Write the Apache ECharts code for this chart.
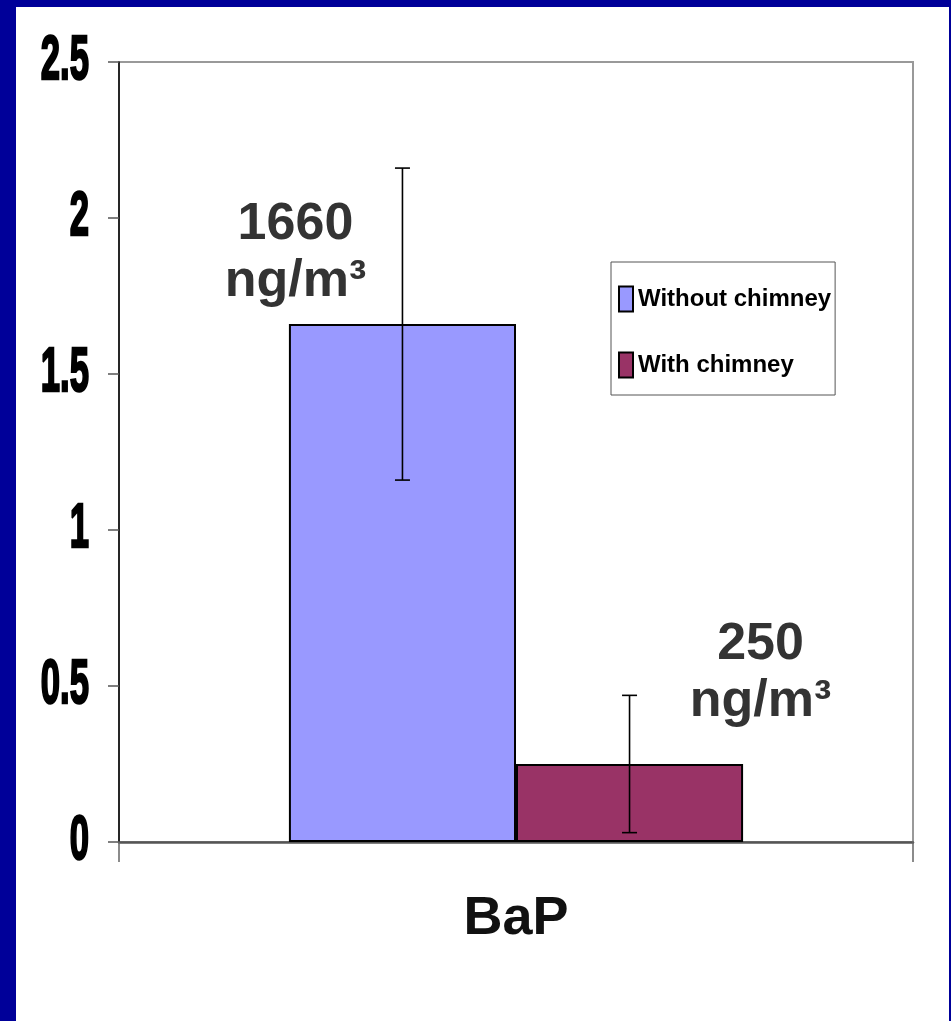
<!DOCTYPE html>
<html>
<head>
<meta charset="utf-8">
<script src="https://cdn.jsdelivr.net/npm/echarts@6/dist/echarts.min.js"></script>
<style>
  html, body { margin: 0; padding: 0; background: #000099; width: 951px; height: 1021px; overflow: hidden; }
  #chart { position: absolute; left: 16px; top: 7px; width: 933px; height: 1014px; background: #ffffff; }
</style>
</head>
<body>
<div id="chart"></div>
<script>
// ---- data ----
const categories = ['BaP'];
const seriesNames = ['Without chimney', 'With chimney'];
const withoutValues = [1.66];
const withValues = [0.25];
const withoutErr = [0.50];
const withErr = [0.22];
const withoutConc = [1660];
const withConc = [250];
const concUnit = 'ng/m³';
const yTickValues = [0, 0.5, 1, 1.5, 2, 2.5];
const yTickLabels = ['0', '0.5', '1', '1.5', '2', '2.5'];

// ---- styles ----
const arial = "'Liberation Sans', Arial, sans-serif";
const BAR_FRAC = 0.286;

function errData(vals, errs) {
  return vals.map((v, i) => [i, v - errs[i], v + errs[i]]);
}
function errSeries(name, vals, errs, sideSign) {
  return {
    type: 'custom',
    name: name + ' err',
    z: 5,
    encode: { x: 0, y: [1, 2] },
    data: errData(vals, errs),
    renderItem: function (params, api) {
      const bandW = api.size([1, 0])[0];
      const lo = api.coord([api.value(0), api.value(1)]);
      const hi = api.coord([api.value(0), api.value(2)]);
      const x = lo[0] + sideSign * bandW * BAR_FRAC / 2;
      const cap = 7.5;
      const st = { stroke: '#000', lineWidth: 1.6 };
      return {
        type: 'group',
        children: [
          { type: 'line', shape: { x1: x, y1: lo[1], x2: x, y2: hi[1] }, style: st },
          { type: 'line', shape: { x1: x - cap, y1: lo[1], x2: x + cap, y2: lo[1] }, style: st },
          { type: 'line', shape: { x1: x - cap, y1: hi[1], x2: x + cap, y2: hi[1] }, style: st }
        ]
      };
    },
    tooltip: { show: false }
  };
}

const chart = echarts.init(document.getElementById('chart'), null, { renderer: 'canvas' });
chart.setOption({
  backgroundColor: '#ffffff',
  animation: false,
  grid: {
    left: 103, right: 36, top: 55, bottom: 179,
    outerBoundsMode: 'none', containLabel: false,
    show: true, borderColor: '#999999', borderWidth: 2, backgroundColor: 'transparent'
  },
  legend: {
    orient: 'vertical',
    left: 595, top: 255,
    data: seriesNames,
    icon: 'rect',
    itemWidth: 14, itemHeight: 25,
    itemGap: 36,
    itemStyle: { borderColor: '#000', borderWidth: 2 },
    itemTextGap: 7,
    padding: [22, 4, 15, 7],
    borderColor: '#555555', borderWidth: 1,
    textStyle: { fontFamily: arial, fontWeight: 'bold', fontSize: 24, color: '#000', lineHeight: 30 }
  },
  xAxis: {
    type: 'category',
    data: categories,
    axisLine: { lineStyle: { color: '#555555', width: 2.5 } },
    axisTick: { show: true, length: 20, lineStyle: { color: '#666666', width: 1.5 } },
    axisLabel: { fontFamily: arial, fontWeight: 'bold', fontSize: 54, color: '#111111', margin: 50 },
    splitLine: { show: false }
  },
  yAxis: {
    type: 'value',
    min: yTickValues[0], max: yTickValues[yTickValues.length - 1], interval: yTickValues[1] - yTickValues[0],
    axisLine: { show: true, lineStyle: { color: '#000000', width: 1.5 } },
    axisTick: { show: true, length: 11, lineStyle: { color: '#555555', width: 1.5 } },
    axisLabel: { show: false },
    splitLine: { show: false }
  },
  series: [
    {
      type: 'bar', name: seriesNames[0], data: withoutValues,
      barWidth: (BAR_FRAC * 100) + '%', barGap: '0%',
      itemStyle: { color: '#9999FF', borderColor: '#000', borderWidth: 2 },
      label: {
        show: true, position: 'top', distance: 14, offset: [-107, 0],
        formatter: (p) => withoutConc[p.dataIndex] + '\n' + concUnit,
        fontFamily: arial, fontWeight: 'bold', fontSize: 52, lineHeight: 57, color: '#333333', align: 'center'
      }
    },
    {
      type: 'bar', name: seriesNames[1], data: withValues,
      barWidth: (BAR_FRAC * 100) + '%', barGap: '0%',
      itemStyle: { color: '#993366', borderColor: '#000', borderWidth: 2 },
      label: {
        show: true, position: 'top', distance: 34, offset: [131, 0],
        formatter: (p) => withConc[p.dataIndex] + '\n' + concUnit,
        fontFamily: arial, fontWeight: 'bold', fontSize: 52, lineHeight: 57, color: '#333333', align: 'center'
      }
    },
    errSeries(seriesNames[0], withoutValues, withoutErr, -1),
    errSeries(seriesNames[1], withValues, withErr, 1)
  ]
});

// Condensed y-axis tick labels, placed through the y axis scale.
const labelRight = 73;
chart.setOption({
  graphic: yTickValues.map((v, i) => ({
    type: 'text',
    x: labelRight,
    y: chart.convertToPixel({ yAxisIndex: 0 }, v),
    scaleX: 0.55,
    silent: true,
    style: {
      text: yTickLabels[i],
      x: 0, y: 0,
      align: 'right', verticalAlign: 'middle',
      font: "bold 63px 'Liberation Sans', Arial, sans-serif",
      fill: '#000',
      stroke: '#000',
      lineWidth: 2.5
    }
  }))
});
</script>
</body>
</html>
